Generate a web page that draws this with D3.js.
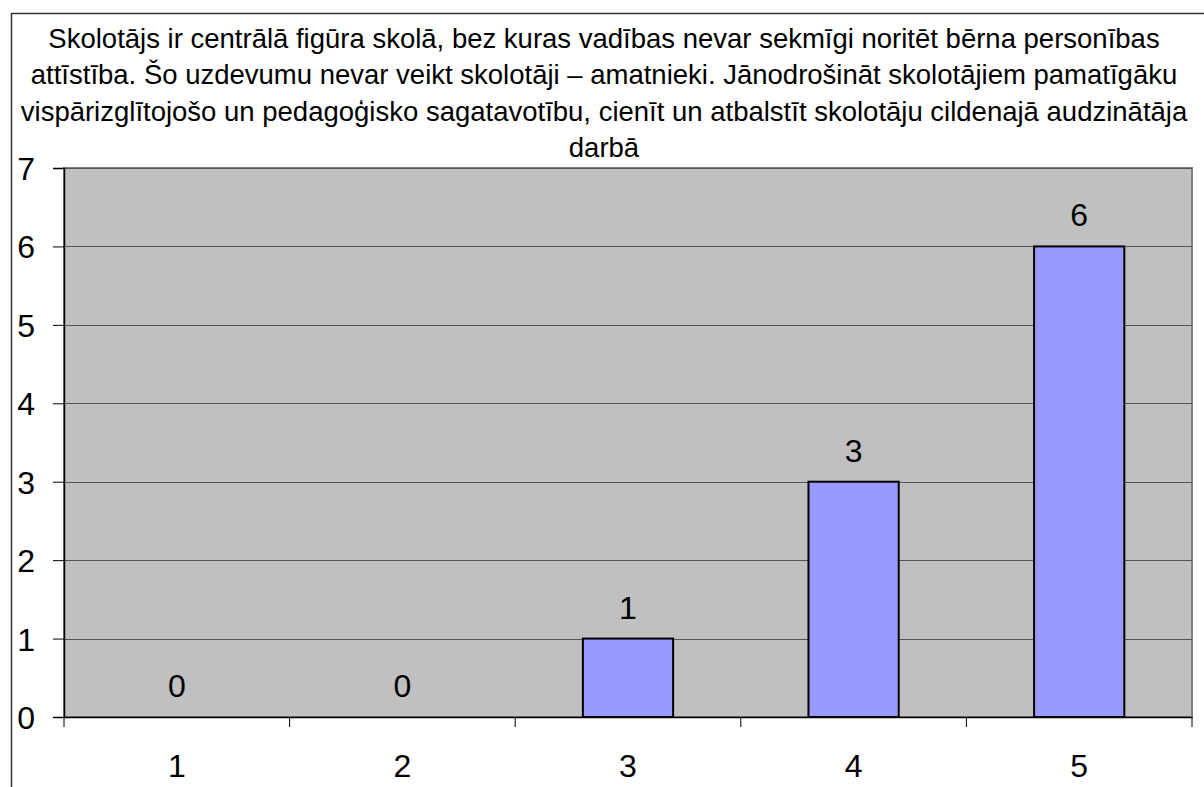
<!DOCTYPE html>
<html>
<head>
<meta charset="utf-8">
<script src="https://cdn.jsdelivr.net/npm/d3@7"></script>
<style>
  body { margin: 0; background: #fff; }
  text { font-family: "Liberation Sans", Arial, sans-serif; fill: #000; }
</style>
</head>
<body>
<div id="chart"></div>
<script>
// Chart data
var categories = ["1", "2", "3", "4", "5"];
var values = [0, 0, 1, 3, 6];
var yTicks = [0, 1, 2, 3, 4, 5, 6, 7];
var titleLines = [
  "Skolotājs ir centrālā figūra skolā, bez kuras vadības nevar sekmīgi noritēt bērna personības",
  "attīstība. Šo uzdevumu nevar veikt skolotāji – amatnieki. Jānodrošināt skolotājiem pamatīgāku",
  "vispārizglītojošo un pedagoģisko sagatavotību, cienīt un atbalstīt skolotāju cildenajā audzinātāja",
  "darbā"
];

var svgWidth = 1204;
var svgHeight = 787;

var margin = { top: 168, right: 12, bottom: 70, left: 64 };
var width = svgWidth - margin.left - margin.right;
var height = svgHeight - margin.top - margin.bottom;

var svg = d3.select("#chart")
  .append("svg")
  .attr("width", svgWidth)
  .attr("height", svgHeight);

// outer frame of the chart object
svg.append("path")
  .attr("d", "M11.5,800 L11.5,13.5 L1210,13.5")
  .attr("fill", "none")
  .attr("stroke", "#333")
  .attr("stroke-width", 1.5);

// title
svg.append("text")
  .attr("text-anchor", "middle")
  .style("font-size", "27.5px")
  .selectAll("tspan")
  .data(titleLines)
  .enter()
  .append("tspan")
  .attr("x", 604)
  .attr("y", (d, i) => 48 + i * 36.3)
  .text(d => d);

var chartGroup = svg.append("g")
  .attr("transform", `translate(${margin.left}, ${margin.top})`);

var xScale = d3.scaleBand()
  .domain(categories)
  .range([0, width])
  .paddingInner(0.6)
  .paddingOuter(0.3);

var xBand = d3.scaleBand()
  .domain(categories)
  .range([0, width]);

var yScale = d3.scaleLinear()
  .domain([0, 7])
  .range([height, 0]);

// plot area
chartGroup.append("rect")
  .attr("width", width)
  .attr("height", height)
  .attr("fill", "#c0c0c0")
  .attr("stroke", "#808080")
  .attr("stroke-width", 2);

// gridlines
chartGroup.selectAll(".grid")
  .data(yTicks.slice(1))
  .enter()
  .append("line")
  .attr("x1", 0)
  .attr("x2", width)
  .attr("y1", d => Math.round(yScale(d)) + 0.5)
  .attr("y2", d => Math.round(yScale(d)) + 0.5)
  .attr("stroke", "#555")
  .attr("stroke-width", 1);

// bars
chartGroup.selectAll(".bar")
  .data(values)
  .enter()
  .append("rect")
  .attr("x", (d, i) => xScale(categories[i]))
  .attr("y", d => yScale(d))
  .attr("width", xScale.bandwidth())
  .attr("height", d => height - yScale(d))
  .attr("fill", "#9999ff")
  .attr("stroke", "#000")
  .attr("stroke-width", 2)
  .style("display", d => d > 0 ? null : "none");

// value labels
chartGroup.selectAll(".val")
  .data(values)
  .enter()
  .append("text")
  .attr("x", (d, i) => xScale(categories[i]) + xScale.bandwidth() / 2)
  .attr("y", d => yScale(d) - 20)
  .attr("text-anchor", "middle")
  .style("font-size", "32px")
  .text(d => d);

// y axis
var leftAxis = d3.axisLeft(yScale)
  .tickValues(yTicks)
  .tickSize(11)
  .tickPadding(18)
  .tickFormat(d3.format("d"));

var yAxisG = chartGroup.append("g").call(leftAxis);
yAxisG.select(".domain").attr("stroke", "#000").attr("stroke-width", 1.5);
yAxisG.selectAll(".tick line").attr("stroke", "#000");
yAxisG.selectAll(".tick text")
  .style("font-size", "32px")
  .attr("font-family", null)
  .attr("dy", "0.36em");

// x axis with ticks between categories
var bottomAxis = d3.axisBottom(xBand)
  .tickSize(0)
  .tickPadding(37);

var xAxisG = chartGroup.append("g")
  .attr("transform", `translate(0, ${height})`)
  .call(bottomAxis);
xAxisG.select(".domain").attr("stroke", "#000").attr("stroke-width", 1.5);
xAxisG.selectAll(".tick text")
  .style("font-size", "32px")
  .attr("font-family", null);

xAxisG.selectAll(".sep")
  .data(d3.range(categories.length + 1))
  .enter()
  .append("line")
  .attr("x1", i => i * xBand.step())
  .attr("x2", i => i * xBand.step())
  .attr("y1", 0)
  .attr("y2", 10)
  .attr("stroke", "#000");
</script>
</body>
</html>
